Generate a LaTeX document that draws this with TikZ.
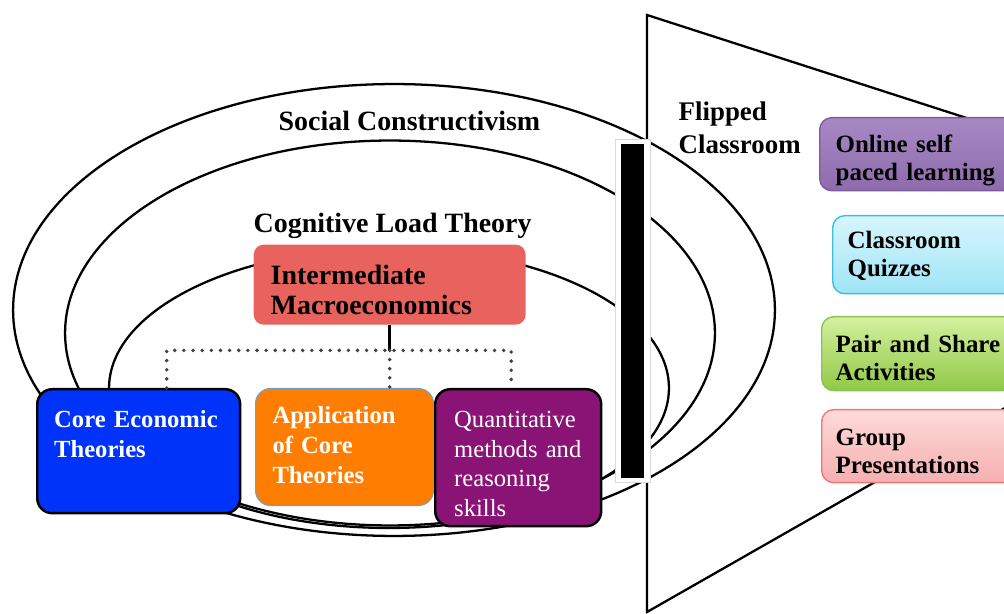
\documentclass[tikz,border=0pt]{standalone}
\usepackage{fontspec}
\setmainfont{Liberation Serif}
\usetikzlibrary{calc, positioning}

\definecolor{interred}{RGB}{232,99,94}
\definecolor{coreblue}{RGB}{0,51,250}
\definecolor{applorange}{RGB}{255,125,0}
\definecolor{applborder}{RGB}{110,160,210}
\definecolor{quantpurple}{RGB}{138,20,118}
\definecolor{onlinetop}{RGB}{168,136,196}
\definecolor{onlinebot}{RGB}{142,108,172}
\definecolor{onlineline}{RGB}{125,90,155}
\definecolor{quiztop}{RGB}{215,246,253}
\definecolor{quizbot}{RGB}{160,228,245}
\definecolor{quizline}{RGB}{60,190,225}
\definecolor{pairtop}{RGB}{212,240,160}
\definecolor{pairbot}{RGB}{145,200,70}
\definecolor{pairline}{RGB}{140,195,85}
\definecolor{grouptop}{RGB}{255,218,218}
\definecolor{groupbot}{RGB}{245,175,175}
\definecolor{groupline}{RGB}{235,120,120}

\begin{document}
\begin{tikzpicture}[x=0.02cm, y=-0.02cm, thick]
  % Define styles
  \tikzstyle{ring} = [draw=black, line width=1.3pt]
  \tikzstyle{megaphone} = [draw=black, line width=1.3pt, line join=miter]
  \tikzstyle{title} = [anchor=base west, inner sep=0pt, font=\fontsize{15.9}{17}\selectfont\bfseries]
  \tikzstyle{box} = [rectangle, rounded corners=0.3cm, anchor=north west, inner ysep=0pt, align=left]
  \tikzstyle{unitbox} = [box, text=white, font=\fontsize{14}{17}\selectfont\bfseries]
  \tikzstyle{activity} = [box, rounded corners=0.24cm, line width=0.8pt, text width=3.3cm, font=\fontsize{14.2}{16}\selectfont\bfseries]
  \tikzstyle{dots} = [draw=black!75, line width=2.2pt, line cap=round, dash pattern=on 0pt off 5.2pt]

  \useasboundingbox (0,0) rectangle (1004,614);
  \clip (0,0) rectangle (1004,614);

  % Draw rings
  \draw [ring] (394,310) ellipse [x radius=7.62cm, y radius=4.52cm];
  \draw [ring] (390,333) ellipse [x radius=6.5cm, y radius=3.85cm];
  \draw [ring] (389,388) ellipse [x radius=5.6cm, y radius=2.8cm];

  % Flipped classroom
  \draw [megaphone] (1010,132) -- (647,15) -- (647,612) -- (1010,405);
  \filldraw [fill=white, draw=black!15, line width=0.5pt] (615,139) rectangle (650,482);
  \fill [black] (621,144) rectangle (644,478);

  % Place nodes
  \node [title] (social) at (278,131) {Social Constructivism};
  \node [title] (cognitive) at (253,233) {Cognitive Load Theory};
  \node [box, rounded corners=0.2cm, fill=interred, font=\fontsize{15.9}{17}\selectfont\bfseries, text width=4.76cm, inner xsep=0.34cm, text height=0.8cm, text depth=0.8cm] (inter) at (253,244) {Intermediate\\Macroeconomics};
  \node [unitbox, draw=black, line width=1.4pt, fill=coreblue, text width=3.38cm, inner xsep=0.34cm, text height=0.76cm, text depth=1.72cm] (core) at (36,388) {Core Economic\\Theories};
  \node [unitbox, draw=applborder, line width=0.6pt, fill=applorange, text width=2.88cm, inner xsep=0.34cm, text height=0.70cm, text depth=1.64cm] (appl) at (255,388) {Application\\of Core\\Theories};
  \node [unitbox, draw=black, line width=1.4pt, fill=quantpurple, font=\fontsize{14}{17}\selectfont, text width=2.56cm, inner xsep=0.38cm, text height=0.76cm, text depth=1.98cm] (quant) at (434,388) {Quantitative\\methods and\\reasoning\\skills};

  \node [anchor=north west, inner sep=0pt, align=left, text width=3cm, font=\fontsize{15.3}{18.7}\selectfont\bfseries, text height=11pt] (flipped) at (678,100.6) {Flipped\\Classroom};
  \node [activity, draw=onlineline, top color=onlinetop, bottom color=onlinebot, inner xsep=0.32cm, text height=0.70cm, text depth=0.76cm] (online) at (819,117) {Online self\\paced learning};
  \node [activity, draw=quizline, top color=quiztop, bottom color=quizbot, inner xsep=0.30cm, text height=0.66cm, text depth=0.90cm] (quizzes) at (832,215) {Classroom\\Quizzes};
  \node [activity, draw=pairline, top color=pairtop, bottom color=pairbot, inner xsep=0.28cm, text height=0.72cm, text depth=0.76cm] (pairshare) at (821,316) {Pair and Share\\Activities};
  \node [activity, draw=groupline, top color=grouptop, bottom color=groupbot, inner xsep=0.28cm, text height=0.72cm, text depth=0.74cm] (groups) at (821,409) {Group\\Presentations};

  % Draw edges
  \coordinate (hub) at ($(inter.south)+(0,25)$);
  \draw [line width=1.5pt] (inter.south) -- (hub);
  \draw [dots] ($(core.north)+(28,0)$) |- (hub) -| ($(quant.north)+(-7,0)$);
  \draw [dots] (hub) -- (hub |- appl.north);
\end{tikzpicture}
\end{document}
